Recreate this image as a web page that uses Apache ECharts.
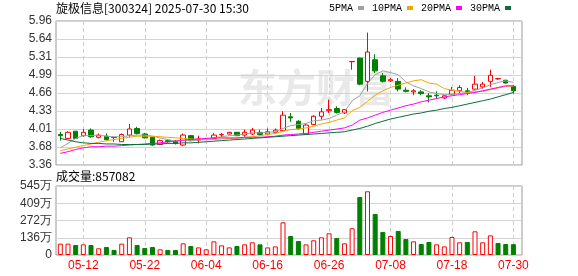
<!DOCTYPE html>
<html><head><meta charset="utf-8">
<script src="https://cdn.jsdelivr.net/npm/echarts@6/dist/echarts.min.js"></script>
<style>html,body{margin:0;padding:0;background:#fff}#c{width:578px;height:276px}</style>
</head><body><div id="c"></div>
<script>
const titleText = '旋极信息[300324] 2025-07-30 15:30';
const volTitle = '成交量:857082';
const dates = ['05-07','05-08','05-09','05-12','05-13','05-14','05-15','05-16','05-19','05-20','05-21','05-22','05-23','05-26','05-27','05-28','05-29','05-30',
 '06-03','06-04','06-05','06-06','06-09','06-10','06-11','06-12','06-13','06-16','06-17','06-18','06-19','06-20','06-23','06-24','06-25','06-26','06-27','06-30',
 '07-01','07-02','07-03','07-04','07-07','07-08','07-09','07-10','07-11','07-14','07-15','07-16','07-17','07-18','07-21','07-22','07-23','07-24','07-25','07-28','07-29','07-30'];
const labelDates = ['05-12','05-22','06-04','06-16','06-26','07-08','07-18','07-30'];
const opens = [3.91,3.84,3.97,3.89,3.99,3.86,3.88,3.855,3.78,3.90, 4.02,3.92,3.86,3.73,3.80,3.79,3.72,3.89,3.81,3.825, 3.84,3.905,3.92,3.95,3.90,3.92,3.95,3.92,3.95,3.98, 4.23,4.15,3.92,4.09,4.24,4.34,4.38,4.30,5.225,5.29, 4.87,5.26,4.97,4.88,4.87,4.71,4.68,4.68,4.61,4.62, 4.57,4.64,4.70,4.70,4.73,4.77,4.87,4.915,4.89,4.78];
const closes = [3.89,3.95,3.84,3.95,3.87,3.90,3.82,3.86,3.91,4.01, 3.93,3.85,3.72,3.80,3.78,3.75,3.90,3.80,3.83,3.83, 3.90,3.91,3.95,3.89,3.95,3.99,3.91,3.96,3.99,4.26, 4.21,4.02,4.08,4.24,4.32,4.36,4.31,4.36,5.23,4.82, 5.40,5.06,4.87,4.90,4.73,4.69,4.70,4.65,4.59,4.61, 4.61,4.71,4.76,4.68,4.82,4.82,4.98,4.92,4.84,4.70];
const lows = [3.80,3.83,3.83,3.87,3.85,3.84,3.80,3.78,3.78,3.87, 3.91,3.84,3.71,3.72,3.76,3.73,3.70,3.79,3.75,3.81, 3.84,3.86,3.91,3.88,3.87,3.90,3.88,3.91,3.93,3.98, 4.14,4.00,3.92,4.08,4.18,4.30,4.29,4.28,5.08,4.80, 4.69,5.02,4.85,4.86,4.69,4.67,4.62,4.62,4.49,4.55, 4.55,4.63,4.65,4.62,4.72,4.74,4.77,4.90,4.83,4.65];
const highs = [3.96,3.97,3.97,4.01,4.02,3.93,3.93,3.86,3.93,4.10, 4.05,3.94,3.87,3.82,3.82,3.81,3.93,3.90,3.89,3.85, 3.94,3.94,3.96,3.96,4.00,4.03,4.00,4.02,4.02,4.33, 4.30,4.17,4.11,4.26,4.39,4.54,4.42,4.37,5.23,5.30, 5.75,5.36,5.02,4.93,4.93,4.76,4.73,4.71,4.66,4.69, 4.62,4.77,4.80,4.75,4.97,4.86,5.08,4.93,4.90,4.80];
const ma5 = [3.67,3.75,3.84,3.89,3.89,3.90,3.88,3.87,3.87,3.89, 3.90,3.90,3.88,3.85,3.82,3.79,3.80,3.80,3.81,3.82, 3.85,3.87,3.89,3.90,3.92,3.94,3.94,3.95,3.96,4.02, 4.07,4.09,4.11,4.16,4.17,4.20,4.26,4.32,4.52,4.61, 4.83,4.99,5.06,5.03,4.99,4.86,4.79,4.74,4.68,4.65, 4.63,4.63,4.65,4.67,4.71,4.75,4.81,4.85,4.88,4.85];
const ma10 = [3.62,3.65,3.68,3.71,3.74,3.77,3.80,3.82,3.84,3.86, 3.88,3.88,3.88,3.87,3.86,3.85,3.84,3.83,3.82,3.82, 3.82,3.83,3.84,3.84,3.86,3.87,3.89,3.91,3.93,3.97, 4.00,4.01,4.03,4.06,4.10,4.13,4.17,4.21,4.34,4.40, 4.51,4.62,4.70,4.76,4.80,4.84,4.88,4.90,4.84,4.82, 4.74,4.71,4.69,4.67,4.68,4.69,4.72,4.75,4.78,4.78];
const ma20 = [3.57,3.60,3.64,3.67,3.69,3.69,3.70,3.70,3.71,3.72, 3.73,3.74,3.75,3.76,3.78,3.79,3.81,3.82,3.83,3.84, 3.85,3.85,3.85,3.85,3.86,3.86,3.86,3.87,3.88,3.90, 3.91,3.92,3.93,3.95,3.97,3.99,4.01,4.03,4.08,4.17, 4.21,4.26,4.31,4.35,4.39,4.43,4.46,4.50,4.53,4.56, 4.59,4.61,4.63,4.65,4.67,4.70,4.73,4.76,4.79,4.79];
const ma30 = [3.84,3.81,3.78,3.76,3.75,3.75,3.74,3.74,3.73,3.73, 3.73,3.73,3.74,3.74,3.75,3.75,3.76,3.76,3.77,3.78, 3.79,3.80,3.81,3.82,3.83,3.84,3.85,3.86,3.87,3.88, 3.89,3.90,3.91,3.92,3.93,3.94,3.95,3.96,3.99,4.02, 4.06,4.11,4.15,4.19,4.22,4.25,4.28,4.30,4.33,4.35, 4.38,4.40,4.43,4.46,4.49,4.52,4.55,4.59,4.63,4.67];
const volumes = [895000,895000,790000,840000,790000,530000,630000,395000,895000,1395000, 790000,550000,630000,450000,395000,395000,920000,710000,600000,450000, 1080000,760000,600000,710000,840000,1000000,840000,600000,680000,2580000, 1500000,1100000,840000,1160000,1395000,1710000,1340000,920000,2110000,4580000, 5030000,3240000,1820000,1500000,1900000,1260000,1080000,870000,1030000,840000, 680000,1420000,1000000,1030000,1870000,1000000,1550000,950000,870000,857082];
const volRise = [1,1,0,1,0,1,0,0,1,1, 0,0,0,1,0,0,1,0,1,1, 1,1,1,0,1,1,0,1,1,1, 0,0,1,1,1,1,0,1,1,0, 1,0,0,1,0,0,1,0,0,1, 1,1,1,0,1,1,1,0,0,0];
const priceTicks = ['3.36','3.68','4.01','4.33','4.66','4.99','5.31','5.64','5.96'];
const volTicks = ['0','136万','272万','409万','545万'];
const maNames = ['5PMA','10PMA','20PMA','30PMA'];

const RED = '#ff0000', GREEN = '#008000';
const MA_COLORS = ['#a0a0a0','#f0a800','#ff00ff','#0b6e3c'];
const labelIdx = new Set(labelDates.map(d => dates.indexOf(d)));
const isLabel = (i) => labelIdx.has(i);
const LEFT = 60.3, DW = 453.1;

const chart = echarts.init(document.getElementById('c'), null, {renderer: 'canvas'});
const axisFont = 'Liberation Sans, Arial, sans-serif';
const option = {
  animation: false,
  backgroundColor: '#fff',
  title: [
    {text: titleText, left: 56, top: 2, padding: 0,
     textStyle: {fontSize: 12, fontWeight: 'normal', color: '#000', fontFamily: 'Noto Sans CJK SC'}},
    {text: volTitle, left: 56, top: 170, padding: 0,
     textStyle: {fontSize: 12, fontWeight: 'normal', color: '#000', fontFamily: 'Noto Sans CJK SC'}}
  ],
  legend: {
    data: maNames, right: 67, top: 3, itemWidth: 6, itemHeight: 4, itemGap: 8,
    align: 'right', icon: 'rect', selectedMode: false, padding: 0,
    textStyle: {fontFamily: 'Liberation Mono', fontSize: 10, color: '#000'}
  },
  graphic: [{
    type: 'text', left: 238, top: 68, z: -1, silent: true,
    style: {text: '东方财富', fill: '#e9e9e9', font: 'bold 39px "Noto Sans CJK SC"'}
  }],
  grid: [
    {left: 56, top: 21, width: 466, height: 144, show: true, borderColor: '#999', borderWidth: 1, backgroundColor: 'transparent', outerBoundsMode: 'none'},
    {left: LEFT, top: 21, width: DW, height: 144, outerBoundsMode: 'none'},
    {left: 56, top: 186, width: 466, height: 69, show: true, borderColor: '#999', borderWidth: 1, backgroundColor: 'transparent', outerBoundsMode: 'none'},
    {left: LEFT, top: 186, width: DW, height: 69, outerBoundsMode: 'none'}
  ],
  xAxis: [
    {gridIndex: 0, type: 'value', min: 0, max: 1, show: false},
    {gridIndex: 1, type: 'category', data: dates, boundaryGap: false,
     axisLine: {show: false}, axisTick: {show: false}, axisLabel: {show: false},
     splitLine: {show: true, interval: (i) => isLabel(i), lineStyle: {color: '#cfcfcf', type: [4, 3], width: 1}}},
    {gridIndex: 2, type: 'value', min: 0, max: 1, show: false},
    {gridIndex: 3, type: 'category', data: dates, boundaryGap: false,
     axisLine: {show: false}, axisTick: {show: false},
     axisLabel: {show: true, interval: (i) => isLabel(i), color: RED, fontSize: 12, margin: 5, fontFamily: axisFont},
     splitLine: {show: true, interval: (i) => isLabel(i), lineStyle: {color: '#cfcfcf', type: [4, 3], width: 1}}}
  ],
  yAxis: [
    {gridIndex: 0, type: 'value', min: 0, max: 8, interval: 1,
     axisLine: {show: false}, axisTick: {show: false},
     axisLabel: {formatter: (v) => priceTicks[Math.round(v)], color: '#333', fontSize: 12, margin: 4, fontFamily: axisFont},
     splitLine: {show: true, lineStyle: {color: '#d4d4d4', width: 1}}},
    {gridIndex: 1, type: 'value', min: 3.36, max: 5.96, show: false, splitLine: {show: false}},
    {gridIndex: 2, type: 'value', min: 0, max: 4, interval: 1,
     axisLine: {show: false}, axisTick: {show: false},
     axisLabel: {formatter: (v) => volTicks[Math.round(v)], color: '#333', fontSize: 12, margin: 4, fontFamily: axisFont},
     splitLine: {show: true, lineStyle: {color: '#d4d4d4', width: 1}}},
    {gridIndex: 3, type: 'value', min: 0, max: 5448000, show: false, splitLine: {show: false}}
  ],
  series: [
    {type: 'candlestick', name: 'K', xAxisIndex: 1, yAxisIndex: 1, clip: false, barWidth: 5,
     data: dates.map((d, i) => [opens[i], closes[i], lows[i], highs[i]]),
     itemStyle: {color: '#fff', color0: GREEN, borderColor: RED, borderColor0: GREEN, borderWidth: 1}},
    ...[ma5, ma10, ma20, ma30].map((arr, k) => ({
      type: 'line', name: maNames[k], xAxisIndex: 1, yAxisIndex: 1, data: arr,
      showSymbol: false, symbol: 'none', smooth: false, clip: false, z: 3,
      lineStyle: {width: 1, color: MA_COLORS[k]}, itemStyle: {color: MA_COLORS[k]}
    })),
    {type: 'bar', name: 'VOL', xAxisIndex: 3, yAxisIndex: 3, clip: false, barWidth: 5,
     data: volumes.map((v, i) => ({
       value: v,
       itemStyle: volRise[i] ? {color: '#fff', borderColor: RED, borderWidth: 1} : {color: GREEN, borderColor: GREEN, borderWidth: 1}
     }))}
  ]
};
chart.setOption(option);
</script>
</body></html>
